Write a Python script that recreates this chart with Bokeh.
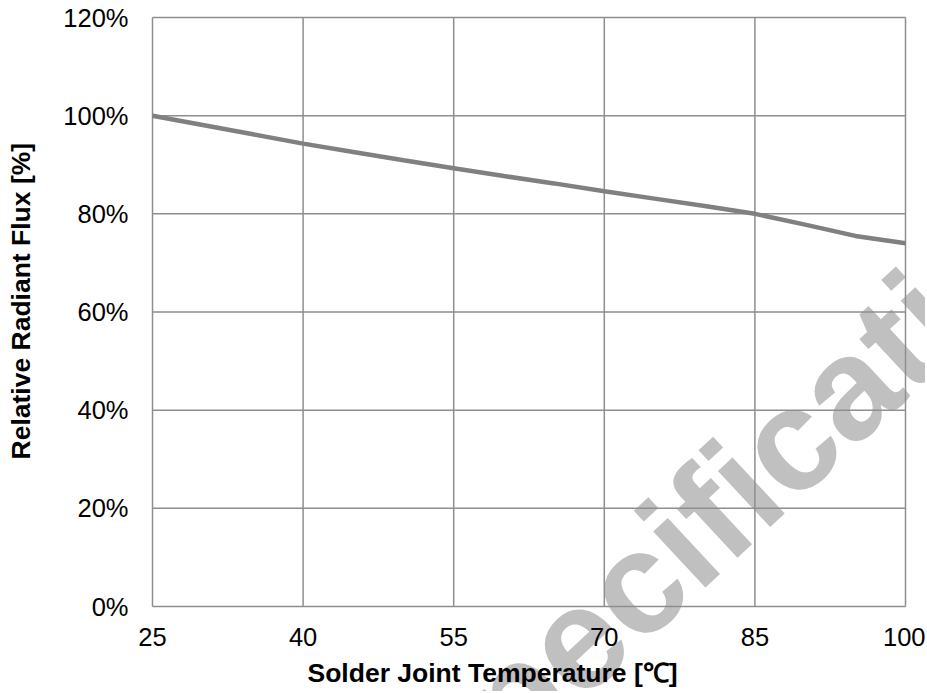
from bokeh.plotting import figure
from bokeh.models import Range1d, FixedTicker, PrintfTickFormatter, Label, LinearAxis
from bokeh.embed import file_html
from bokeh.resources import INLINE

# Data
temperature_c = [25, 30, 35, 40, 45, 50, 55, 60, 65, 70, 75, 80, 85, 90, 95, 100]
relative_flux_pct = [100.0, 98.1, 96.2, 94.3, 92.6, 90.9, 89.3, 87.7, 86.2, 84.6,
                     83.1, 81.6, 80.0, 77.8, 75.5, 74.0]
x_ticks = [25, 40, 55, 70, 85, 100]
y_ticks = [0, 20, 40, 60, 80, 100, 120]
x_title = "Solder Joint Temperature [℃]"
y_title = "Relative Radiant Flux [%]"
watermark = "Specification"

FONT = "Liberation Sans"
GRID = "#8e8e8e"

# canvas and chart-area placement (pixels)
W, H = 925, 691
LEFT, RIGHT, TOP, BOTTOM = 152, 905, 17, 606
x_lo, x_hi = x_ticks[0], x_ticks[-1]
y_lo, y_hi = y_ticks[0], y_ticks[-1]
kx = (RIGHT - LEFT) / (x_hi - x_lo)
ky = (BOTTOM - TOP) / (y_hi - y_lo)

p = figure(width=W, height=H, output_backend="svg", toolbar_location=None,
           x_range=Range1d(x_lo - LEFT / kx, x_hi + (W - RIGHT) / kx),
           y_range=Range1d(y_lo - (H - BOTTOM) / ky, y_hi + TOP / ky),
           x_axis_location=None, y_axis_location=None, min_border=0)
p.background_fill_color = "white"
p.border_fill_color = "white"
p.outline_line_color = None
p.grid.visible = False

# watermark (under everything, not clipped by the chart area)
p.add_layout(Label(x=740, y=H - 486, x_units="screen", y_units="screen", text=watermark,
                   angle=43, angle_units="deg", text_align="center", text_baseline="middle",
                   text_font=FONT, text_font_style="bold", text_font_size="145px",
                   text_color="#c0c0c0", level="image"))

# grid lines + frame
p.segment(x0=x_ticks, y0=[y_lo] * len(x_ticks), x1=x_ticks, y1=[y_hi] * len(x_ticks),
          line_color=GRID, line_width=1.5)
p.segment(x0=[x_lo] * len(y_ticks), y0=y_ticks, x1=[x_hi] * len(y_ticks), y1=y_ticks,
          line_color=GRID, line_width=1.5)

# axes fixed at the chart-area edges
xaxis = LinearAxis(fixed_location=y_lo, ticker=FixedTicker(ticks=x_ticks))
yaxis = LinearAxis(fixed_location=x_lo, ticker=FixedTicker(ticks=y_ticks),
                   formatter=PrintfTickFormatter(format="%d%%"))
for ax in (xaxis, yaxis):
    ax.axis_line_color = None
    ax.major_tick_line_color = None
    ax.minor_tick_line_color = None
    ax.major_tick_out = 0
    ax.major_tick_in = 0
    ax.minor_tick_out = 0
    ax.minor_tick_in = 0
    ax.major_label_text_font = FONT
    ax.major_label_text_font_size = "25.5px"
    ax.major_label_text_color = "black"
xaxis.major_label_standoff = 21
yaxis.major_label_standoff = 24
p.add_layout(xaxis, "below")
p.add_layout(yaxis, "left")

# data line
p.line(temperature_c, relative_flux_pct, line_color="#808080", line_width=4.5)

# axis titles
p.add_layout(Label(x=307, y=19, x_units="screen", y_units="screen", text=x_title,
                   text_align="left", text_baseline="alphabetic", text_font=FONT,
                   text_font_style="bold", text_font_size="26.5px", text_color="black"))
p.add_layout(Label(x=20.5, y=H - 459, x_units="screen", y_units="screen", text=y_title,
                   angle=90, angle_units="deg", text_align="left",
                   text_baseline="alphabetic", text_font=FONT, text_font_style="bold",
                   text_font_size="26.5px", text_color="black"))

open("out.html", "w").write(file_html(p, INLINE))
